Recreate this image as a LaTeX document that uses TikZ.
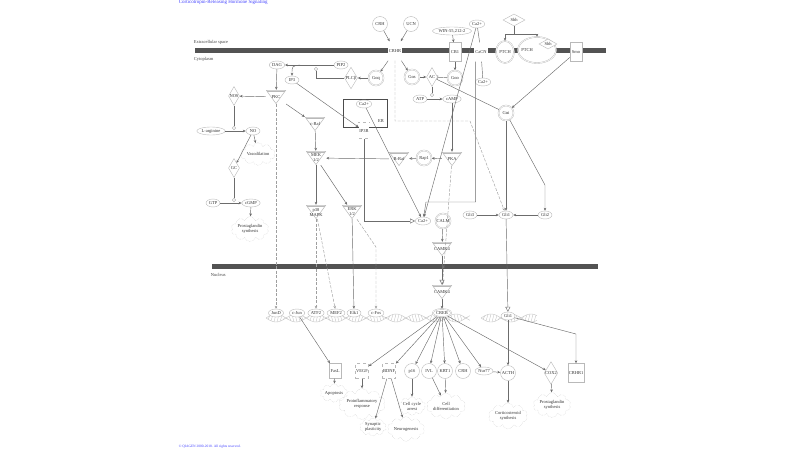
\documentclass[tikz,border=0pt]{standalone}
\usepackage{fontspec}
\setmainfont{Liberation Serif}
\usetikzlibrary{shapes.geometric,shapes.symbols,arrows.meta}
\tikzset{>={Stealth[length=3pt,width=2.6pt]},
  every node/.style={font=\fontsize{4.5}{5}\selectfont, text=black!80, inner sep=0.6pt},
  mol/.style={ellipse, draw=gray!55, fill=white, minimum height=8pt, minimum width=14pt},
  mold/.style={mol, double=white, double distance=0.6pt},
  circ/.style={circle, draw=gray!55, fill=white, minimum size=15pt},
  circd/.style={circ, double=white, double distance=0.6pt},
  kin/.style={rectangle, minimum width=20pt, minimum height=14pt, inner sep=0pt, align=center,
    path picture={\filldraw[draw=gray!55, fill=white, line width=0.5pt]
      ([shift={(0.3pt,-0.3pt)}]path picture bounding box.north west)
      -- ([shift={(-0.3pt,-0.3pt)}]path picture bounding box.north east)
      -- ([yshift=0.4pt]path picture bounding box.south) -- cycle;
      \draw[draw=gray!55] ([shift={(1.2pt,-1.6pt)}]path picture bounding box.north west)
      -- ([shift={(-1.2pt,-1.6pt)}]path picture bounding box.north east);}},
  enz/.style={diamond, aspect=0.6, draw=gray!55, fill=white, minimum width=11pt, minimum height=19pt, inner sep=0pt},
  rec/.style={rectangle, draw=gray!55, fill=white, minimum width=12pt, minimum height=19pt},
  recd/.style={rec, double=white, double distance=0.6pt},
  fn/.style={cloud, cloud puffs=10, aspect=2, draw=gray!45, densely dotted, align=center, inner sep=0pt},
  dot/.style={circle, draw=gray!55, fill=white, minimum size=3.5pt, inner sep=0pt},
  ln/.style={draw=gray!85!black, line width=0.45pt},
  dsh/.style={draw=gray!75, dash pattern=on 3pt off 1.5pt},
  trans/.style={-{Triangle[open,length=5pt,width=5pt]}},
  bar/.style={fill=gray!65!black},
  lbl/.style={anchor=west, text=black!75}
}

\begin{document}
\begin{tikzpicture}[x=1pt,y=-1pt]
\useasboundingbox (0,0) rectangle (800,450);

% compartments
\fill[bar] (195,48) rectangle (606,53);
\fill[bar] (212,264) rectangle (598,269);
\node[lbl] (exs) at (193,42) {Extracellular space};
\node[lbl] (cyt) at (193,59) {Cytoplasm};
\node[lbl] (nuc) at (210,275) {Nucleus};
\node[anchor=north west, text=blue!75, font=\fontsize{5}{6}\selectfont] (title) at (178,-1) {Corticotropin-Releasing Hormone Signaling};
\node[anchor=west, text=blue!75, font=\fontsize{3.5}{4}\selectfont] (copy) at (178,447) {© QIAGEN 2000-2018. All rights reserved.};

% DNA
\begin{scope}[draw=gray!45, line width=0.4pt]
  \draw plot[domain=266:470, samples=120] (\x, {318+4*sin(9*(\x-266))});
  \draw plot[domain=266:470, samples=120] (\x, {318-4*sin(9*(\x-266))});
  \draw plot[domain=481:537, samples=40] (\x, {318+4*sin(9*(\x-481))});
  \draw plot[domain=481:537, samples=40] (\x, {318-4*sin(9*(\x-481))});
  \foreach \x in {268,271,...,468}
    \draw (\x, {318+4*sin(9*(\x-266))}) -- (\x+2, {318-4*sin(9*(\x-264))});
  \foreach \x in {483,486,...,535}
    \draw (\x, {318+4*sin(9*(\x-481))}) -- (\x+2, {318-4*sin(9*(\x-479))});
\end{scope}

% ER
\node[draw=gray!60!black, line width=1pt, minimum width=44pt, minimum height=28pt, inner sep=0pt] (er) at (365,113) {};
\node (erl) at (381,121) {ER};

% extracellular / membrane
\node[circ] (crh) at (380,24) {CRH};
\node[circ] (ucn) at (411,24) {UCN};
\node[recd] (crhr) at (395,51) {CRHR};
\node[mol, minimum width=10pt] (win) at (452,31) {WIN-55,212-2};
\node[rec] (cb1) at (455,52) {CB1};
\node[mol] (ca1) at (477,24) {Ca2+};
\node[recd] (cacn) at (481,52) {CaCN};
\node[mol] (ca2) at (483,82) {Ca2+};
\node[enz, aspect=1.8, minimum width=22pt, minimum height=12pt] (shh) at (514,20) {Shh};
\node[ellipse, draw=gray!55, fill=white, double=white, double distance=0.6pt, minimum width=14pt, minimum height=22pt] (ptch1) at (505,52) {PTCH};
\node[ellipse, draw=gray!55, fill=white, double=white, double distance=0.6pt, minimum width=38pt, minimum height=26pt] (ptch2) at (537,50) {};
\node (ptcht) at (527,50) {PTCH};
\node[enz, aspect=1.8, minimum width=18pt, minimum height=10pt] (shh2) at (548,44) {Shh};
\node[rec] (smo) at (576,52) {Smo};

% cytoplasm
\node[mol] (dag) at (277,65) {DAG};
\node[mol] (pip2) at (341,65) {PIP2};
\coordinate (pj) at (300,65);
\node[dot] (d0) at (316,69) {};
\node[mol] (ip3) at (292,80) {IP3};
\node[enz] (plcb) at (351,78) {PLCβ};
\node[circd] (gaq) at (376,78) {Gαq};
\node[circd] (gas) at (412,77) {Gαs};
\node[enz] (ac) at (432,77) {AC};
\node[circd] (gao) at (455,78) {Gαo};
\node[mol] (atp) at (420,99) {ATP};
\node[mol] (camp) at (452,99) {cAMP};
\node[dot] (d3) at (432,95) {};
\node[enz] (nos) at (234,96) {NOS};
\node[kin] (pkc) at (276,97) {PKC};
\node[mol] (larg) at (211,131) {L-arginine};
\node[mol] (no) at (253,131) {NO};
\node[dot] (d1) at (234,128) {};
\node[fn] (vaso) at (258,154) {Vasodilation};
\node[enz] (gc) at (234,168) {GC};
\node[mol] (gtp) at (213,203) {GTP};
\node[mol] (cgmp) at (251,203) {cGMP};
\node[dot] (d2) at (234,200) {};
\node[fn] (prost1) at (250,229) {Prostaglandin\\synthesis};
\node[kin] (craf) at (315,124) {c-Raf};
\node[mol] (caer) at (364,104) {Ca2+};
\node[recd, dashed, minimum width=10pt, minimum height=16pt] (ip3r) at (364,131) {IP3R};
\node[kin] (mek) at (316,158) {MEK\\1/2};
\node[kin] (braf) at (399,159) {B-Raf};
\node[circd] (rap1) at (424,158) {Rap1};
\node[kin] (pka) at (452,159) {PKA};
\node[circd] (gai) at (506,113) {Gαi};
\node[mol] (gli3) at (470,215) {Gli3};
\node[mol] (gli1) at (506,215) {Gli1};
\node[mol] (gli2) at (545,215) {Gli2};
\node[kin] (p38) at (316,212) {p38\\MAPK};
\node[kin] (erk) at (352,212) {ERK\\1/2};
\node[mol] (cacy) at (423,221) {Ca2+};
\node[circd] (calm) at (443,221) {CALM};
\node[kin] (camk4) at (442,249) {CAMK4};

% nucleus
\node[kin] (camk4n) at (442,292) {CAMK4};
\node[mol] (jund) at (276,313) {JunD};
\node[mol] (cjun) at (297,313) {c-Jun};
\node[mol] (atf2) at (316,313) {ATF2};
\node[mol] (mef2) at (336,313) {MEF2};
\node[mol] (elk1) at (354,313) {Elk1};
\node[mol] (cfos) at (376,313) {c-Fos};
\node[mold] (creb) at (442,313) {CREB};
\node[mol] (gli1n) at (508,316) {Gli1};
\node[rec, minimum height=15pt] (fasl) at (335,371) {FasL};
\node[rec, dashed, minimum height=15pt] (vegf) at (362,371) {VEGF};
\node[rec, dashed, minimum height=15pt] (bdnf) at (389,371) {BDNF};
\node[circ] (p16) at (412,371) {p16};
\node[circ] (ivl) at (429,371) {IVL};
\node[circ] (krt1) at (445,371) {KRT1};
\node[circ] (crh2) at (463,371) {CRH};
\node[mol] (nur77) at (484,371) {Nur77};
\node[circ] (acth) at (508,373) {ACTH};
\node[enz] (cox2) at (551,373) {COX2};
\node[rec] (crhr1) at (576,373) {CRHR1};
\node[fn] (apop) at (334,393) {Apoptosis};
\node[fn] (proinf) at (362,404) {Proinflammatory\\response};
\node[fn] (cca) at (412,406) {Cell cycle\\arrest};
\node[fn] (celld) at (446,406) {Cell\\differentiation};
\node[fn] (synap) at (373,427) {Synaptic\\plasticity};
\node[fn] (neuro) at (406,429) {Neurogenesis};
\node[fn] (cort) at (508,416) {Corticosteroid\\synthesis};
\node[fn] (prost2) at (552,405) {Prostaglandin\\synthesis};

% connectors
\begin{scope}[ln]
\draw[->] (crh) -- (crhr);
\draw[->] (ucn) -- (crhr);
\draw[->] (crhr) -- (gaq);
\draw[->] (crhr) -- (gas);
\draw[->] (gaq) -- (plcb);
\draw[->] (pip2) -- (dag);
\draw (plcb) -| (d0);
\draw[->] (pj) .. controls (292,66) .. (ip3);
\draw[->] (dag) -- (pkc);
\draw[->] (pkc) -- (nos);
\draw[->] (pkc) -- (craf);
\draw[dsh,->] (pkc) -- (jund);
\draw (nos) -- (d1);
\draw[->] (larg) -- (no);
\draw[->] (no) -- (vaso);
\draw[->] (no) -- (gc);
\draw (gc) -- (d2);
\draw[->] (gtp) -- (cgmp);
\draw[->] (cgmp) -- (prost1);
\draw[->] (ip3) -- (ip3r);
\draw[->] (craf) -- (mek);
\draw[->] (braf) -- (mek);
\draw[->] (rap1) -- (braf);
\draw[->] (pka) -- (rap1);
\draw[->] (mek) -- (p38);
\draw[->] (mek) -- (erk);
\draw[dsh,->] (p38) -- (atf2);
\draw[dsh,->] (p38) -- (mef2);
\draw[->] (erk) -- (elk1);
\draw[dsh,->] (erk) -- (376,247) -- (cfos);
\draw[->] (gas) -- (ac);
\draw[-{Bar[width=4pt]}] (gao) -- (ac);
\draw (ac) -- (d3);
\draw[->] (atp) -- (camp);
\draw[->] (camp) -- (pka);
\draw[dsh,->] (pka) -- (camk4n);
\draw[->] (caer) -- (cacy);
\draw[trans] (ip3r) |- (cacy);
\draw[->] (ca1) -- (cacy);
\draw (ca1) -- (cacn);
\draw (cacn) -- (ca2);
\draw[->] (cacn.south west) ++(1,0) |- (426,202) -- (cacy);
\draw[->] (win) -- (cb1);
\draw[->] (cb1) -- (gao);
\draw[->] (shh) -- (514,34) -| (ptch1);
\draw[->] (514,34) -| (ptch2);
\draw[->] (smo) -- (gai);
\draw (ac) -- (gai);
\draw[->] (gai) -- (gli1);
\draw[->] (gai) -- (545,185) -- (gli2);
\draw[dsh,->] (crhr) -- (395,121) -- (470,121) -- (gli1);
\draw[->] (gli3) -- (gli1);
\draw[->] (gli2) -- (gli1);
\draw[trans] (gli1) -- (gli1n);
\draw[->] (calm) -- (camk4);
\draw[trans] (camk4) -- (camk4n);
\draw[->] (camk4n) -- (creb);
\draw[->] (cjun) -- (fasl);
\foreach \t in {vegf,bdnf,p16,ivl,krt1,crh2,nur77,cox2}
  \draw[->] (creb) -- (\t);
\draw[->] (gli1n) -- (acth);
\draw[->] (gli1n) -- (576,334) -- (crhr1);
\draw[->] (nur77) -- (acth);
\draw[->] (fasl) -- (apop);
\draw[->] (vegf) -- (proinf);
\draw[->] (bdnf) -- (synap);
\draw[->] (bdnf) -- (neuro);
\draw[->] (p16) -- (cca);
\draw[->] (ivl) -- (celld);
\draw[->] (krt1) -- (celld);
\draw[->] (acth) -- (cort);
\draw[->] (cox2) -- (prost2);
\end{scope}
\end{tikzpicture}
\end{document}
